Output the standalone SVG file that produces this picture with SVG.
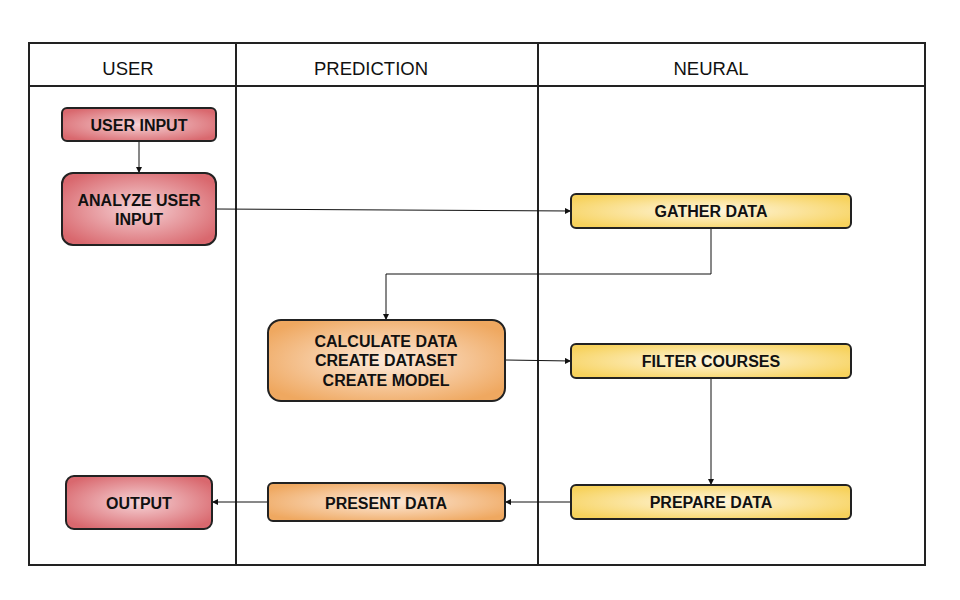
<svg xmlns="http://www.w3.org/2000/svg" width="960" height="600" viewBox="0 0 960 600">
<style>
.lane{fill:none;stroke:#222;stroke-width:2}
.hd{font-family:"Liberation Sans",Arial,sans-serif;font-size:18.5px;fill:#111;text-anchor:middle}
.nt{font-family:"Liberation Sans",Arial,sans-serif;font-size:16px;font-weight:bold;fill:#111;text-anchor:middle}
.nb{stroke:#222;stroke-width:2}
.red{fill:url(#gRed)}
.org{fill:url(#gOrg)}
.yel{fill:url(#gYel)}
.cn{fill:none;stroke:#111;stroke-width:1}
</style>
<defs>
<radialGradient id="gRed" cx="0.5" cy="0.5" r="0.6">
<stop offset="0" stop-color="#f6d3d6"/>
<stop offset="1" stop-color="#d9686e"/>
</radialGradient>
<radialGradient id="gOrg" cx="0.5" cy="0.5" r="0.6">
<stop offset="0" stop-color="#fdeadb"/>
<stop offset="1" stop-color="#efa860"/>
</radialGradient>
<radialGradient id="gYel" cx="0.5" cy="0.5" r="0.6">
<stop offset="0" stop-color="#fff7e2"/>
<stop offset="1" stop-color="#f7d25c"/>
</radialGradient>
<marker id="ar" viewBox="0 0 8 8" refX="8" refY="4" markerWidth="6" markerHeight="6" orient="auto" markerUnits="userSpaceOnUse">
<path d="M0,0 L8,4 L0,8 z" fill="#111"/>
</marker>
</defs>
<rect x="0" y="0" width="960" height="600" fill="#fff"/>
<g id="lanes">
<rect class="lane" x="29" y="43" width="896" height="522"/>
<line class="lane" x1="29" y1="86" x2="925" y2="86"/>
<line class="lane" x1="236" y1="43" x2="236" y2="565"/>
<line class="lane" x1="538" y1="43" x2="538" y2="565"/>
<text class="hd" x="128" y="75">USER</text>
<text class="hd" x="371" y="75">PREDICTION</text>
<text class="hd" x="711" y="75">NEURAL</text>
</g>
<g id="connectors">
<line class="cn" x1="139" y1="141" x2="139" y2="173" marker-end="url(#ar)"/>
<line class="cn" x1="216" y1="209" x2="571" y2="211" marker-end="url(#ar)"/>
<polyline class="cn" points="711,228 711,274 386,274 386,320" marker-end="url(#ar)"/>
<line class="cn" x1="505" y1="360" x2="571" y2="361" marker-end="url(#ar)"/>
<line class="cn" x1="711" y1="378" x2="711" y2="485" marker-end="url(#ar)"/>
<line class="cn" x1="571" y1="502" x2="505" y2="502" marker-end="url(#ar)"/>
<line class="cn" x1="268" y1="502" x2="212" y2="502" marker-end="url(#ar)"/>
</g>
<g id="user-input">
<rect class="nb red" x="62" y="108" width="154" height="33" rx="5"/>
<text class="nt" x="139" y="130.5">USER INPUT</text>
</g>
<g id="analyze-user-input">
<rect class="nb red" x="62" y="173" width="154" height="72" rx="11"/>
<text class="nt" x="139" y="206">ANALYZE USER</text>
<text class="nt" x="139" y="225">INPUT</text>
</g>
<g id="gather-data">
<rect class="nb yel" x="571" y="194" width="280" height="34" rx="5"/>
<text class="nt" x="711" y="217">GATHER DATA</text>
</g>
<g id="calculate-data">
<rect class="nb org" x="268" y="320" width="237" height="81" rx="13"/>
<text class="nt" x="386" y="347">CALCULATE DATA</text>
<text class="nt" x="386" y="366">CREATE DATASET</text>
<text class="nt" x="386" y="386">CREATE MODEL</text>
</g>
<g id="filter-courses">
<rect class="nb yel" x="571" y="344" width="280" height="34" rx="5"/>
<text class="nt" x="711" y="367">FILTER COURSES</text>
</g>
<g id="output">
<rect class="nb red" x="66" y="476" width="146" height="53" rx="8"/>
<text class="nt" x="139" y="508.5">OUTPUT</text>
</g>
<g id="present-data">
<rect class="nb org" x="268" y="483" width="237" height="38" rx="5"/>
<text class="nt" x="386" y="508.5">PRESENT DATA</text>
</g>
<g id="prepare-data">
<rect class="nb yel" x="571" y="485" width="280" height="34" rx="5"/>
<text class="nt" x="711" y="508">PREPARE DATA</text>
</g>
</svg>
